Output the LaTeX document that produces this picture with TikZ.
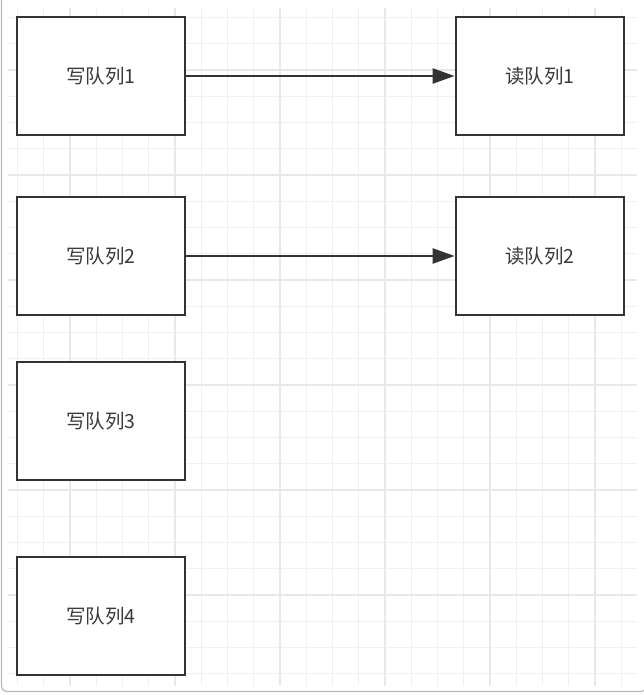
\documentclass[tikz,border=0pt]{standalone}
\usepackage{fontspec}
\setmainfont{Noto Sans CJK SC}
\usetikzlibrary{arrows.meta}
\definecolor{linec}{HTML}{333333}
\definecolor{textc}{HTML}{3A3A3A}
\definecolor{gridminor}{HTML}{F0F0F0}
\definecolor{gridmajor}{HTML}{E8E8E8}
\definecolor{framec}{HTML}{B8B8B8}
\tikzset{
  qbox/.style={draw=linec, line width=2.8pt, fill=white, minimum width=168pt, minimum height=118pt, inner sep=0pt, text=textc, font=\fontsize{19.5}{22}\selectfont},
  conn/.style={draw=linec, line width=2.4pt, -{Triangle[length=22pt,width=15pt]}},
}
\begin{document}
\begin{tikzpicture}[x=1pt,y=-1pt]
\useasboundingbox (0,0) rectangle (644,695);
\fill[white] (0,0) rectangle (644,695);
% page frame
\draw[framec, line width=1.2pt, rounded corners=5pt] (1.5,-20) rectangle (646,691.5);
% grid
\foreach \k in {0,...,23} {
  \draw[gridminor, line width=1pt] ({17.5+26.25*\k},8) -- ({17.5+26.25*\k},686);
}
\foreach \k in {0,...,25} {
  \draw[gridminor, line width=1pt] (8,{17.5+26.25*\k}) -- (637,{17.5+26.25*\k});
}
\foreach \k in {0,...,5} {
  \draw[gridmajor, line width=1.1pt] ({70+105*\k},8) -- ({70+105*\k},686);
}
\foreach \k in {0,...,5} {
  \draw[gridmajor, line width=1.1pt] (8,{70+105*\k}) -- (637,{70+105*\k});
}
% boxes
\node[qbox] (w1) at (101,76) {写队列1};
\node[qbox] (w2) at (101,256) {写队列2};
\node[qbox] (w3) at (101,421) {写队列3};
\node[qbox] (w4) at (101,616) {写队列4};
\node[qbox] (r1) at (540,76) {读队列1};
\node[qbox] (r2) at (540,256) {读队列2};
% connectors
\draw[conn] (w1) -- (r1);
\draw[conn] (w2) -- (r2);
\end{tikzpicture}
\end{document}
